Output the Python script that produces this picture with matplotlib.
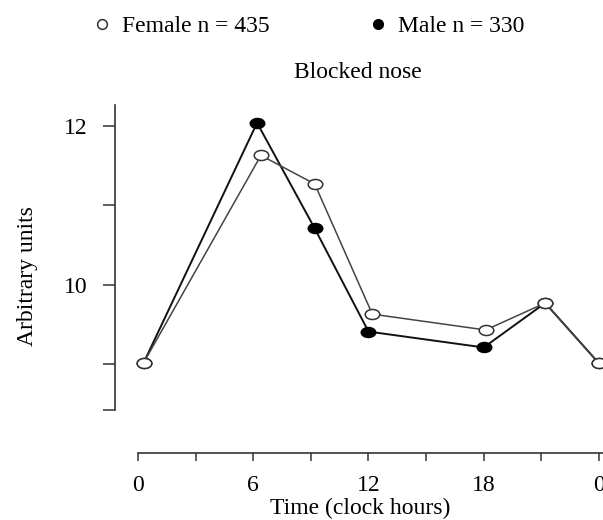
"""Blocked nose: diurnal profile by sex."""

import matplotlib

matplotlib.use("Agg")
import matplotlib.pyplot as plt
from matplotlib.lines import Line2D
from matplotlib.markers import MarkerStyle
from matplotlib.path import Path
from matplotlib.transforms import Affine2D

plt.rcParams["font.family"] = ["Liberation Serif", "DejaVu Serif"]

# values
female_hours = [0.3, 6.4, 9.2, 12.2, 18.1, 21.2, 24.0]
female_units = [9.02, 11.63, 11.27, 9.63, 9.43, 9.77, 9.01]
male_hours = [0.3, 6.2, 9.2, 12.0, 18.0, 21.2, 24.0]
male_units = [9.02, 12.04, 10.71, 9.41, 9.21, 9.77, 9.01]

x_ticks = [0, 3, 6, 9, 12, 15, 18, 21, 24]
x_tick_labels = ["0", "", "6", "", "12", "", "18", "", "0"]
y_ticks = [8.42, 9, 10, 11, 12]
y_tick_labels = ["", "", "10", "", "12"]

FS = 17
W, H = 603, 520

# the original scan is stretched sideways, so the dots are ellipses
ellipse = MarkerStyle(Path.unit_circle().transformed(Affine2D().scale(1.45, 1.0)))

fig = plt.figure(figsize=(W / 100, H / 100), dpi=100)
ax = fig.add_axes([115 / W, 1 - 453 / H, (W - 115) / W, 348 / H])

ax.plot(male_hours, male_units, color="#111111", linewidth=1.4,
        marker=ellipse, markersize=10.5, markerfacecolor="black",
        markeredgecolor="black", clip_on=False, zorder=3)
ax.plot(female_hours, female_units, color="#444444", linewidth=1.1,
        marker=ellipse, markersize=10.5, markerfacecolor="white",
        markeredgecolor="#333333", markeredgewidth=1.1, clip_on=False, zorder=4)

ax.set_xlim(-1.197, 24.21)
ax.set_ylim(7.88, 12.265)

for side in ["top", "right"]:
    ax.spines[side].set_visible(False)
for side in ["left", "bottom"]:
    ax.spines[side].set_linewidth(1.2)
    ax.spines[side].set_color("#333333")
ax.spines["left"].set_bounds(8.42, 12.265)
ax.spines["bottom"].set_bounds(0, 24.21)

ax.set_xticks(x_ticks, x_tick_labels)
ax.set_yticks(y_ticks, y_tick_labels)
ax.tick_params(axis="x", direction="out", length=6, width=1.1, color="#333333",
               pad=10, labelsize=FS)
ax.tick_params(axis="y", direction="out", length=8.6, width=1.1, color="#333333",
               pad=11, labelsize=FS)

fig.text(358 / W, 1 - 72 / H, "Blocked nose", ha="center", va="center", fontsize=FS)
fig.text(360 / W, 1 - 508 / H, "Time (clock hours)", ha="center", va="center", fontsize=FS)
fig.text(27 / W, 1 - 276 / H, "Arbitrary units", ha="center", va="center",
         rotation=90, fontsize=FS)

handles = [
    Line2D([], [], linestyle="none", marker="o", markersize=7,
           markerfacecolor="white", markeredgecolor="#333333", markeredgewidth=1.1),
    Line2D([], [], linestyle="none", marker="o", markersize=7,
           markerfacecolor="black", markeredgecolor="black"),
]
fig.legend(handles, ["Female n = 435", "Male n = 330"], loc="center left",
           bbox_to_anchor=(92.6 / W, 1 - 26 / H), ncol=2, frameon=False,
           borderpad=0, borderaxespad=0, handlelength=0.8, handletextpad=0.45,
           columnspacing=4.2, fontsize=FS)

fig.savefig("out.png", dpi=100)
plt.close(fig)
